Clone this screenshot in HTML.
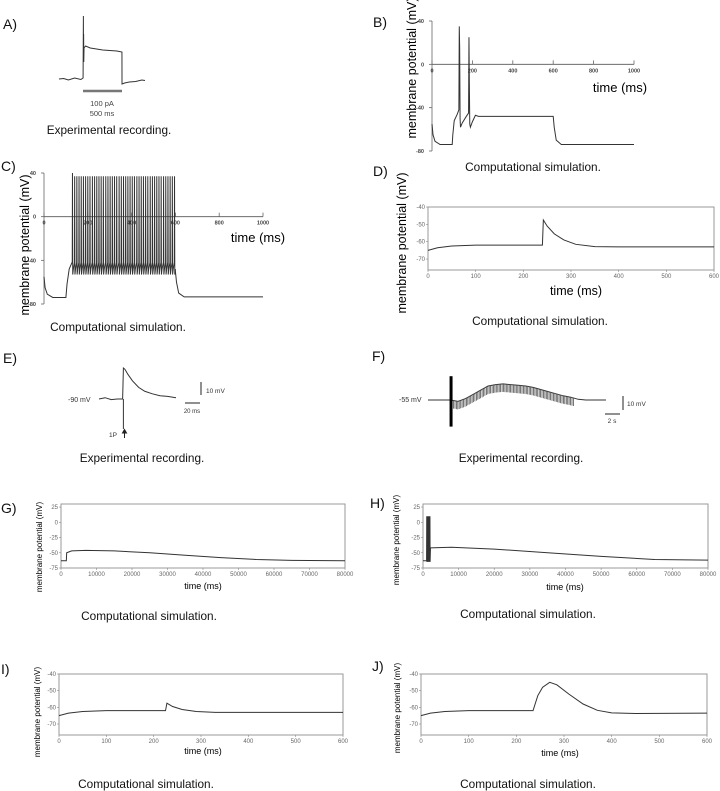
<!DOCTYPE html>
<html><head><meta charset="utf-8">
<style>
html,body{margin:0;padding:0;background:#fff;}
svg{display:block;font-family:"Liberation Sans",sans-serif;}
.cap{font-size:11.8px;fill:#111;}
.pl{font-size:14px;fill:#111;}
.tr{fill:none;stroke:#333;stroke-width:1;}
.tk{font-size:5.5px;fill:#444;font-weight:bold;}
.tk2{font-size:6px;fill:#666;}
.box{fill:none;stroke:#999;stroke-width:1;}
</style></head>
<body>
<svg id="fig" width="720" height="791" viewBox="0 0 720 791" xmlns="http://www.w3.org/2000/svg">
<g id="labels">
<text class="pl" x="3" y="29">A)</text>
<text class="pl" x="373" y="27">B)</text>
<text class="pl" x="1" y="171">C)</text>
<text class="pl" x="373" y="176">D)</text>
<text class="pl" x="3" y="363">E)</text>
<text class="pl" x="372" y="361">F)</text>
<text class="pl" x="1" y="513">G)</text>
<text class="pl" x="370" y="508">H)</text>
<text class="pl" x="1" y="674">I)</text>
<text class="pl" x="372" y="671">J)</text>
</g>
<g>
<text class="cap" x="109" y="134" text-anchor="middle">Experimental recording.</text>
<text class="cap" x="533" y="171" text-anchor="middle">Computational simulation.</text>
<text class="cap" x="118" y="331" text-anchor="middle">Computational simulation.</text>
<text class="cap" x="540" y="325" text-anchor="middle">Computational simulation.</text>
<text class="cap" x="142" y="462" text-anchor="middle">Experimental recording.</text>
<text class="cap" x="521" y="462" text-anchor="middle">Experimental recording.</text>
<text class="cap" x="149" y="620" text-anchor="middle">Computational simulation.</text>
<text class="cap" x="528" y="618" text-anchor="middle">Computational simulation.</text>
<text class="cap" x="146" y="788" text-anchor="middle">Computational simulation.</text>
<text class="cap" x="528" y="788" text-anchor="middle">Computational simulation.</text>
</g>
<g>
<line x1="83" y1="91" x2="122" y2="91" stroke="#777" stroke-width="2.5"/>
<text x="102" y="106" font-size="7.5" fill="#444" text-anchor="middle">100 pA</text>
<text x="102" y="116" font-size="7.5" fill="#444" text-anchor="middle">500 ms</text>
</g>
<g>
<text x="68" y="402" font-size="7" fill="#333">-90 mV</text>
<line x1="201" y1="382" x2="201" y2="395" stroke="#222"/>
<text x="206" y="393" font-size="6.5" fill="#333">10 mV</text>
<line x1="185" y1="403" x2="200" y2="403" stroke="#222"/>
<text x="192" y="413" font-size="6" fill="#333" text-anchor="middle">20 ms</text>
<text x="109" y="437" font-size="6.5" fill="#333">1P</text>
<path d="M124.5 438 L124.5 431 M122.5 433 L124.5 429.5 L126.5 433 Z" stroke="#222" fill="#222"/>
</g>
<g>
<text x="399" y="402" font-size="7" fill="#333">-55 mV</text>
<line x1="623" y1="396" x2="623" y2="410" stroke="#222"/>
<text x="627" y="406" font-size="6.5" fill="#333">10 mV</text>
<line x1="605" y1="414" x2="620" y2="414" stroke="#222"/>
<text x="612" y="423" font-size="6.5" fill="#333" text-anchor="middle">2 s</text>
</g>
<g id="plots"></g>
</svg>
<script>
// ---- data arrays ----
const aTrace=[[0,-75],[60,-74.5],[120,-76],[200,-74],[280,-75.5],[308,-74],[312,-12],[313,-55],[315,-30],[317,-58],[320,-44],[340,-42],[400,-44],[480,-45],[560,-46],[650,-46.5],[740,-47],[805,-48],[806,-80],[840,-79],[900,-78],[980,-77.5],[1060,-76],[1100,-76.5]];
const bTrace=[[0,-55],[5,-65],[15,-71],[40,-74],[100,-74],[103,-65],[110,-52],[125,-46],[133,-42],[135,35],[137,15],[139,-50],[141,-58],[150,-54],[170,-48],[181,-45],[183,25],[185,-20],[187,-55],[190,-58],[200,-53],[215,-47],[230,-48],[600,-48],[605,-58],[615,-70],[640,-74],[1000,-74]];
const cPre=[[0,-55],[5,-65],[15,-71],[40,-74],[100,-74],[105,-62],[115,-48],[128,-42]];
const cSpikes=[130,140,150,160,170,180,190,200,210,221,231,241,251,261,271,282,292,302,312,322,332,343,353,363,373,383,393,403,413,424,434,444,454,464,474,485,495,505,515,525,535,546,556,566,576,586,596];
const cPeaks=[40,37,37,37,37,37,37,37,37,37,37,37,37,37,37,37,37,37,37,37,37,37,37,37,37,37,37,37,37,37,37,37,37,37,37,37,37,37,37,37,37,37,37,37,37,37,37];
const cPost=[[600,-50],[605,-60],[615,-70],[640,-73.5],[1000,-73.5]];
const dTrace=[[0,-65],[20,-63.5],[50,-62.5],[100,-62],[240,-62],[242,-47.5],[250,-51],[265,-55.5],[285,-59],[310,-61.5],[350,-62.8],[400,-63],[600,-63]];
const eTrace=[[0,-90],[8,-89],[16,-90.5],[24,-90],[31,-90],[32,-66],[34,-67],[38,-71],[44,-76],[52,-81],[60,-84],[70,-86],[80,-87.5],[90,-88],[101,-89]];
const fEnvT=[0,2,3,4,5,6,7,8,9,10,11,12,13,14,15,16,17,18,19,20,21,22,23.7];
const fEnvV=[-55,-55,-55,-56,-54,-51,-48,-45,-44,-43.5,-44,-44.5,-45,-46,-47.5,-49,-50.5,-52,-53,-54.5,-55,-55,-55];
const fBar=[3.07,-38,-74];
const gTrace=[[0,-63],[1500,-63],[1600,-50],[3000,-47],[7000,-46],[15000,-47],[25000,-50],[35000,-54],[45000,-58],[55000,-61],[65000,-62.5],[80000,-63]];
const hPre=[[0,-63],[1000,-63]];
const hBurst=[1050,1150,1250,1350,1450,1550,1650,1750,1850,1950];
const hPost=[[2100,-42],[8000,-41],[20000,-44],[35000,-50],[50000,-56],[65000,-61],[80000,-62]];
const iTrace=[[0,-65],[20,-63.5],[50,-62.5],[100,-62],[225,-62],[228,-57.5],[240,-59.5],[260,-61.3],[290,-62.5],[330,-63],[600,-63]];
const jTrace=[[0,-65],[20,-63.5],[50,-62.5],[100,-62],[235,-62],[245,-53],[255,-48],[270,-45],[285,-46.5],[310,-52],[340,-58],[370,-61.8],[400,-63.3],[450,-63.7],[600,-63.5]];
const bcXTicks=[0,200,400,600,800,1000];
const bcYTicks=[40,0,-40,-80];
const msXTicks=[0,100,200,300,400,500,600];
const longXTicks=[0,10000,20000,30000,40000,50000,60000,70000,80000];
const smallYTicks=[-40,-50,-60,-70];
const longYTicks=[25,0,-25,-50,-75];

const NS="http://www.w3.org/2000/svg";
const root=document.getElementById('plots');
function mk(tag,attrs,parent){const e=document.createElementNS(NS,tag);for(const k in attrs)e.setAttribute(k,attrs[k]);(parent||root).appendChild(e);return e;}
function scale(d0,d1,r0,r1){return v=>r0+(v-d0)*(r1-r0)/(d1-d0);}
function pathOf(pts,X,Y){return pts.map((p,i)=>(i?'L':'M')+X(p[0]).toFixed(2)+' '+Y(p[1]).toFixed(2)).join(' ');}
function txt(x,y,s,cls,anchor,parent,rot){const t=mk('text',{x:x,y:y,class:cls||'','text-anchor':anchor||'middle'},parent);if(rot)t.setAttribute('transform','rotate(-90 '+x+' '+y+')');t.textContent=s;return t;}

// A
(function(){
const g=mk('g',{});


const X=scale(0,1100,59,145), Y=scale(-75,-12,79,16);
const p=mk('path',{d:pathOf(aTrace,X,Y),class:'tr'},g);


})();

// B and C axes-style plots
function axisPlot(name,x0,x1,yTop,yBot,xlabX,xlabY,ylabX,ylabY){
const g=mk('g',{});


const X=scale(0,1000,x0,x1), Y=scale(40,-80,yTop,yBot);
mk('line',{x1:x0,y1:yTop,x2:x0,y2:yBot,stroke:'#666','stroke-width':0.8},g);
mk('line',{x1:x0,y1:Y(0),x2:x1,y2:Y(0),stroke:'#555','stroke-width':0.8},g);
bcXTicks.forEach(t=>{mk('line',{x1:X(t),y1:Y(0),x2:X(t),y2:Y(0)-4,stroke:'#666','stroke-width':0.8},g);
const l=txt(X(t),Y(0)+8,String(t),'tk','middle',g);

});
bcYTicks.forEach(v=>{mk('line',{x1:x0,y1:Y(v),x2:x0-3,y2:Y(v),stroke:'#666','stroke-width':0.8},g);
const l=txt(x0-8,Y(v)+2,String(v),'tk','end',g);

});
const xt=txt(xlabX,xlabY,'time (ms)','','middle',g);xt.setAttribute('font-size','13');


const yt=txt(ylabX,ylabY,'membrane potential (mV)','','middle',g,true);yt.setAttribute('font-size','12.5');


return {g,X,Y};
}
(function(){
const {g,X,Y}=axisPlot('panel-b-plot',432,634,21,151,620,92,416,68);
const p=mk('path',{d:pathOf(bTrace,X,Y),class:'tr'},g);


})();
(function(){
const {g,X,Y}=axisPlot('panel-c-plot',44,263,173,304,258,242,29,245);
let pts=cPre.slice();
cSpikes.forEach((s,i)=>{pts.push([s-1,-42]);pts.push([s,cPeaks[i]]);pts.push([s+1.2,-53]);pts.push([s+4,-48]);});
pts=pts.concat(cPost);
const p=mk('path',{d:pathOf(pts,X,Y),class:'tr','stroke-width':0.8},g);


})();

// matplotlib style box plots
function boxPlot(name,x0,x1,yT,yB,t1,vTop,vBot,xt,yt,xLabelPos,yLabelPos,fs){
const g=mk('g',{});


const X=scale(0,t1,x0,x1), Y=scale(vTop,vBot,yT,yB);
const b=mk('rect',{x:x0,y:yT,width:x1-x0,height:yB-yT,class:'box'},g);


xt.forEach(t=>{mk('line',{x1:X(t),y1:yB,x2:X(t),y2:yB+2,stroke:'#888','stroke-width':0.6},g);
const l=txt(X(t),yB+8,String(t),'tk2','middle',g);

});
yt.forEach(v=>{mk('line',{x1:x0,y1:Y(v),x2:x0-2,y2:Y(v),stroke:'#888','stroke-width':0.6},g);
const l=txt(x0-3,Y(v)+2,String(v),'tk2','end',g);

});
const a=txt(xLabelPos[0],xLabelPos[1],'time (ms)','','middle',g);a.setAttribute('font-size',fs[0]);


const c=txt(yLabelPos[0],yLabelPos[1],'membrane potential (mV)','','middle',g,true);c.setAttribute('font-size',fs[1]);


return {g,X,Y};
}
function addTrace(g,pts,X,Y,name,w){
const p=mk('path',{d:pathOf(pts,X,Y),class:'tr','stroke-width':w||1.3},g);


}
(function(){const {g,X,Y}=boxPlot('panel-d-plot',428,714,207,270,600,-40,-76.3,msXTicks,smallYTicks,[576,295],[406,243],[12.5,12.5]);
addTrace(g,dTrace,X,Y,'simulation-trace-d');})();
(function(){const {g,X,Y}=boxPlot('panel-g-plot',61,345,504,568,80000,30,-75,longXTicks,longYTicks,[203,589],[42,547],[9,8]);
addTrace(g,gTrace,X,Y,'simulation-trace-g');})();
(function(){const {g,X,Y}=boxPlot('panel-h-plot',423,708,504,568,80000,30,-75,longXTicks,longYTicks,[565,590],[399,540],[9,8]);
let pts=hPre.slice();hBurst.forEach(s=>{pts.push([s,10]);pts.push([s+40,-65]);});pts=pts.concat(hPost);
addTrace(g,pts,X,Y,'simulation-trace-h');})();
(function(){const {g,X,Y}=boxPlot('panel-i-plot',59,343,674,735,600,-40,-76.6,msXTicks,smallYTicks,[203,754],[40,712],[9,8]);
addTrace(g,iTrace,X,Y,'simulation-trace-i');})();
(function(){const {g,X,Y}=boxPlot('panel-j-plot',421,707,674,735,600,-40,-76.6,msXTicks,smallYTicks,[560,756],[400,708],[9,8]);
addTrace(g,jTrace,X,Y,'simulation-trace-j');})();

// E
(function(){
const g=mk('g',{});


const X=scale(0,101,99,176), Y=scale(-90,-66,399,368);
const p=mk('path',{d:pathOf(eTrace,X,Y),class:'tr'},g);


const s=mk('line',{x1:X(32),y1:Y(-90),x2:X(32),y2:429,stroke:'#333','stroke-width':1},g);


})();

// F
(function(){
const g=mk('g',{});


const X=scale(0,23.7,428,606), Y=scale(-55,-45,400,386);
const env=fEnvT.map((t,i)=>[t,fEnvV[i]]);
const p=mk('path',{d:pathOf(env,X,Y),class:'tr','stroke-width':1.8,stroke:'#111'},g);


function envAt(t){for(let i=1;i<fEnvT.length;i++){if(t<=fEnvT[i]){const a=fEnvT[i-1],b=fEnvT[i];return fEnvV[i-1]+(fEnvV[i]-fEnvV[i-1])*(t-a)/(b-a);}}return fEnvV[fEnvV.length-1];}
let d='';
for(let t=3.4;t<=19.5;t+=0.19){const v=envAt(t);d+='M'+X(t).toFixed(1)+' '+Y(v).toFixed(1)+'L'+X(t).toFixed(1)+' '+(Y(v)+8).toFixed(1);}
const o=mk('path',{d:d,stroke:'#555','stroke-width':0.8,fill:'none'},g);


const b=mk('rect',{x:X(fBar[0])-1.5,y:Y(fBar[1]),width:3,height:Y(fBar[2])-Y(fBar[1]),fill:'#000'},g);


})();
</script>
</body></html>
